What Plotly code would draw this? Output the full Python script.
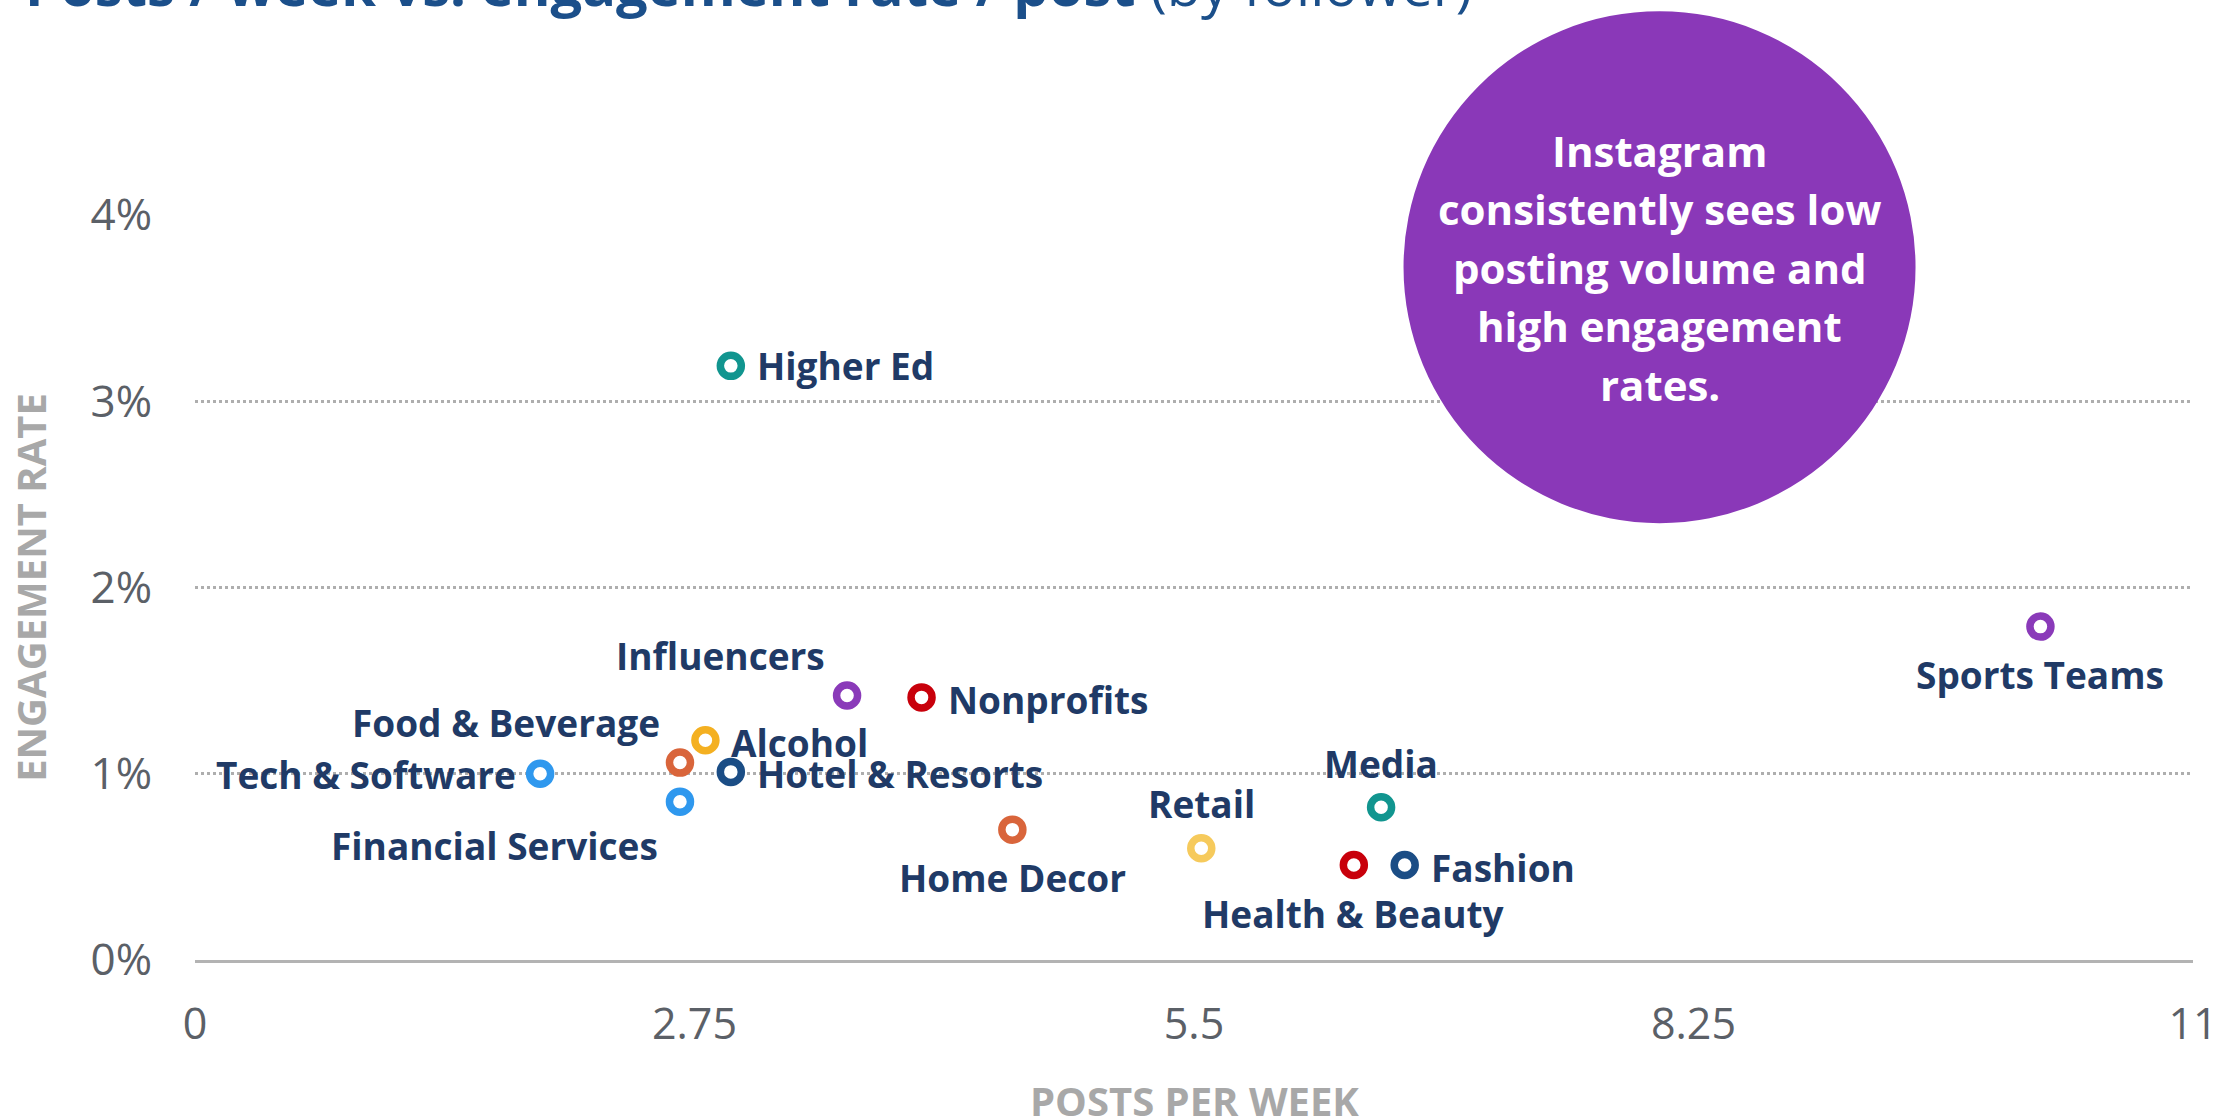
import plotly.graph_objects as go

NAVY = "#203a66"
TITLE_BLUE = "#1b4f8a"
AXIS_GREY = "#a8a8a8"
TICK_GREY = "#5b6067"
GRID_GREY = "#aeaeae"
CALLOUT = "#8a38b8"
FONT = "Open Sans"

# ---- data ----
industries = [
    "Higher Ed", "Influencers", "Nonprofits", "Alcohol", "Food & Beverage",
    "Hotel & Resorts", "Tech & Software", "Financial Services", "Home Decor",
    "Retail", "Media", "Health & Beauty", "Fashion", "Sports Teams",
]
posts_per_week = [2.95, 3.59, 4.00, 2.81, 2.67, 2.95, 1.90, 2.67, 4.50, 5.54, 6.53, 6.38, 6.66, 10.16]
engagement_rate = [0.0319, 0.0142, 0.0141, 0.0118, 0.0106, 0.0101, 0.0100, 0.0085, 0.0070,
                   0.0060, 0.0082, 0.0051, 0.0051, 0.0179]
x_ticks = [0, 2.75, 5.5, 8.25, 11]
x_tick_text = ["0", "2.75", "5.5", "8.25", "11"]
y_ticks = [0, 0.01, 0.02, 0.03, 0.04]
y_tick_text = ["0%", "1%", "2%", "3%", "4%"]
callout_lines = ["Instagram", "consistently sees low", "posting volume and",
                 "high engagement", "rates."]

# ---- styling ----
ring_colors = {
    "Higher Ed": "#11958f", "Influencers": "#8a3ab9", "Nonprofits": "#c8000b",
    "Alcohol": "#f4b021", "Food & Beverage": "#d9653b", "Hotel & Resorts": "#1b4d85",
    "Tech & Software": "#2f98ee", "Financial Services": "#2f98ee", "Home Decor": "#d9653b",
    "Retail": "#f6ca5c", "Media": "#11958f", "Health & Beauty": "#c8000b",
    "Fashion": "#1b4d85", "Sports Teams": "#8a3ab9",
}
# label anchor, x shift, y shift (px)
label_place = {
    "Higher Ed": ("left", 24, 0), "Influencers": ("right", -20, 40),
    "Nonprofits": ("left", 24, -2), "Alcohol": ("left", 24, -2),
    "Food & Beverage": ("right", -18, 40), "Hotel & Resorts": ("left", 24, -2),
    "Tech & Software": ("right", -22, -1), "Financial Services": ("right", -20, -44),
    "Home Decor": ("center", 0, -48), "Retail": ("center", 0, 45),
    "Media": ("center", 0, 44), "Health & Beauty": ("center", 0, -48),
    "Fashion": ("left", 24, -2), "Sports Teams": ("center", 0, -48),
}

fig = go.Figure(go.Scatter(
    x=posts_per_week, y=engagement_rate, mode="markers",
    marker=dict(symbol="circle", size=21, color="white",
                line=dict(width=7.5, color=[ring_colors[n] for n in industries])),
    hoverinfo="skip", showlegend=False, cliponaxis=False,
))

for name, x, y in zip(industries, posts_per_week, engagement_rate):
    anchor, dx, dy = label_place[name]
    fig.add_annotation(x=x, y=y, text=f"<b>{name}</b>", showarrow=False,
                       xanchor=anchor, yanchor="middle", xshift=dx, yshift=dy,
                       font=dict(family=FONT, size=37, color=NAVY))

# purple callout bubble (kept as a circle via pixel sizing)
cx, cy, r = 0.733, 0.930, 256
fig.add_shape(type="circle", xref="paper", yref="paper", xsizemode="pixel", ysizemode="pixel",
              xanchor=cx, yanchor=cy, x0=-r, x1=r, y0=-r, y1=r,
              fillcolor=CALLOUT, line_width=0, layer="above")
for i, line in enumerate(callout_lines):
    fig.add_annotation(xref="paper", yref="paper", x=cx, y=cy, yshift=(2 - i) * 58.5,
                       xanchor="center", yanchor="middle",
                       text=f"<b>{line}</b>", showarrow=False,
                       font=dict(family=FONT, size=42, color="white"))

# title, mostly cut off at the top of the page
fig.add_annotation(xref="paper", yref="paper", x=-0.086, y=1.2566, xanchor="left", yanchor="bottom",
                   text="<b>Posts / week vs. engagement rate / post</b> (by follower)",
                   showarrow=False, font=dict(family=FONT, size=56, color=TITLE_BLUE))

# x axis title as an annotation (an axis title gets clamped inside the margin)
fig.add_annotation(xref="paper", yref="paper", x=0.5, y=0, yshift=-140,
                   xanchor="center", yanchor="middle", showarrow=False,
                   text="<b>POSTS PER WEEK</b>",
                   font=dict(family=FONT, size=40, color=AXIS_GREY))

fig.update_xaxes(range=[0, 11], tickvals=x_ticks, ticktext=x_tick_text, showgrid=False,
                 zeroline=False, showline=True, linecolor="#b3b3b3", linewidth=3,
                 automargin=False, ticklabelstandoff=24,
                 tickfont=dict(family=FONT, size=43, color=TICK_GREY))
fig.update_yaxes(range=[0, 0.04], tickvals=y_ticks, ticktext=y_tick_text, showgrid=True,
                 gridcolor=GRID_GREY, gridwidth=3, griddash="3px,3px", zeroline=False,
                 automargin=False, ticklabelstandoff=42,
                 tickfont=dict(family=FONT, size=44, color=TICK_GREY),
                 title=dict(text="<b>ENGAGEMENT RATE</b>", standoff=31,
                            font=dict(family=FONT, size=40, color=AXIS_GREY)))

fig.update_layout(width=2231, height=1120, plot_bgcolor="white", paper_bgcolor="white",
                  margin=dict(l=195, r=38, t=215, b=160), font=dict(family=FONT))

# drop the default 8px page margin so the figure sits at the window's top-left
fig.write_html("out.html", config={"displayModeBar": False},
               post_script="document.body.style.margin = '0';")
